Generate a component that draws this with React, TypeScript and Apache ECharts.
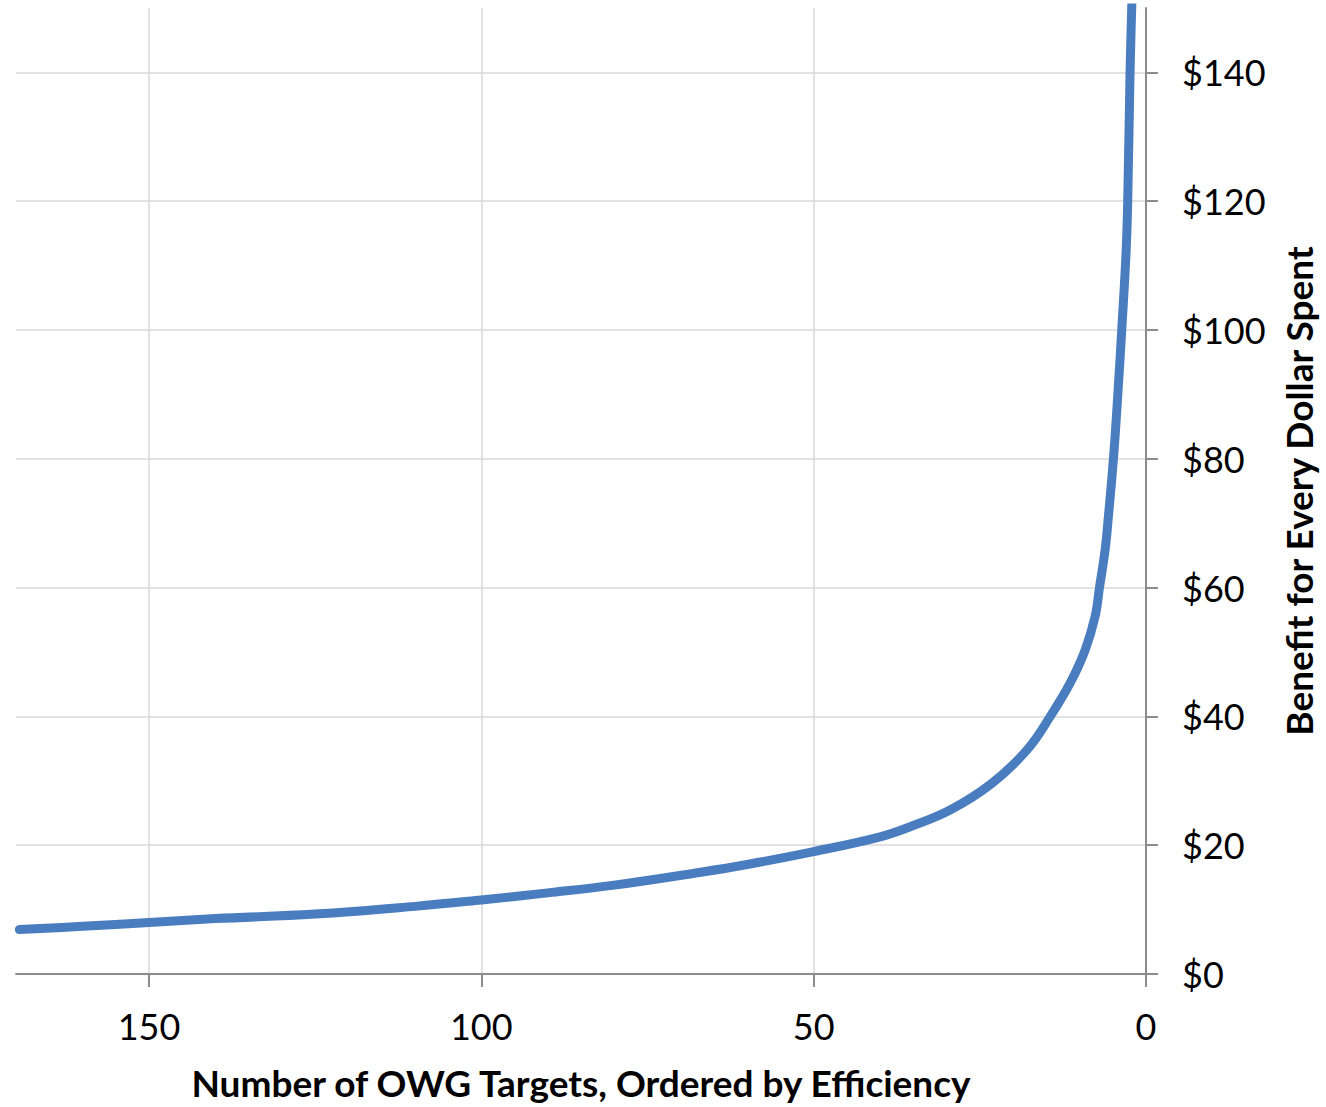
import React, { useEffect, useRef } from "react";
import * as echarts from "echarts";

const targets = [2.0, 2.15, 2.4, 2.75, 3.0, 3.65, 4.3, 4.9, 5.66, 6.16, 7.0, 7.66, 9.16, 11.4, 14.4, 17.9, 23.2, 29.4, 35.4, 40, 50, 60, 67, 80, 90, 100, 110, 125, 140, 150, 160, 169.5];
const benefits = [156.0, 150.0, 140.0, 120.0, 112.0, 100.0, 89.0, 80.0, 71.0, 65.8, 60.0, 55.5, 50.3, 45.2, 40.0, 34.8, 29.6, 25.5, 22.9, 21.3, 19.0, 17.0, 15.8, 13.8, 12.6, 11.5, 10.5, 9.3, 8.6, 8.0, 7.4, 6.9];
const xTickValues = [0, 50, 100, 150];
const yTickValues = [0, 20, 40, 60, 80, 100, 120, 140];
const xTitle = "Number of OWG Targets, Ordered by Efficiency";
const yTitle = "Benefit for Every Dollar Spent";

export default function App() {
  const ref = useRef<HTMLDivElement>(null);
  useEffect(() => {
    if (!ref.current) return;
    const chart = echarts.init(ref.current, undefined, { renderer: "svg" });
    const font = "Lato";
    chart.setOption({
      animation: false,
      backgroundColor: "#ffffff",
      grid: { left: 16, right: 180, top: 8, bottom: 133, containLabel: false },
      xAxis: {
        type: "value",
        inverse: true,
        min: 0,
        max: 170,
        interval: 50,
        name: xTitle,
        nameLocation: "middle",
        nameGap: 90,
        nameTextStyle: { fontFamily: font, fontSize: 37, fontWeight: "bold", color: "#000" },
        axisLine: { show: true, onZero: false, lineStyle: { color: "#8c8c8c", width: 2 } },
        axisTick: { show: true, length: 13, customValues: xTickValues, lineStyle: { color: "#8c8c8c", width: 2 } },
        axisLabel: { margin: 34, fontFamily: font, fontSize: 36, color: "#000", customValues: xTickValues },
        splitLine: { show: true, lineStyle: { color: "#d9d9d9", width: 1.5 } },
      },
      yAxis: {
        type: "value",
        position: "right",
        min: 0,
        max: 150,
        interval: 20,
        name: yTitle,
        nameLocation: "middle",
        nameRotate: 90,
        nameGap: 134,
        nameTextStyle: { fontFamily: font, fontSize: 37, fontWeight: "bold", color: "#000" },
        axisLine: { show: true, lineStyle: { color: "#8c8c8c", width: 2 } },
        axisTick: { show: true, length: 12, customValues: yTickValues, lineStyle: { color: "#8c8c8c", width: 2 } },
        axisLabel: {
          margin: 36,
          fontFamily: font,
          fontSize: 36,
          color: "#000",
          customValues: yTickValues,
          formatter: (v: number) => "$" + v,
        },
        splitLine: { show: true, lineStyle: { color: "#d9d9d9", width: 1.5 } },
      },
      series: [
        {
          type: "line",
          data: targets.map((t, i) => [t, benefits[i]]),
          smooth: 0.4,
          showSymbol: false,
          clip: true,
          lineStyle: { color: "#4a7dbf", width: 9, cap: "round", join: "round" },
        },
      ],
    });
    return () => chart.dispose();
  }, []);
  return <div ref={ref} style={{ position: "absolute", left: 0, top: 0, width: 1326, height: 1107 }} />;
}
